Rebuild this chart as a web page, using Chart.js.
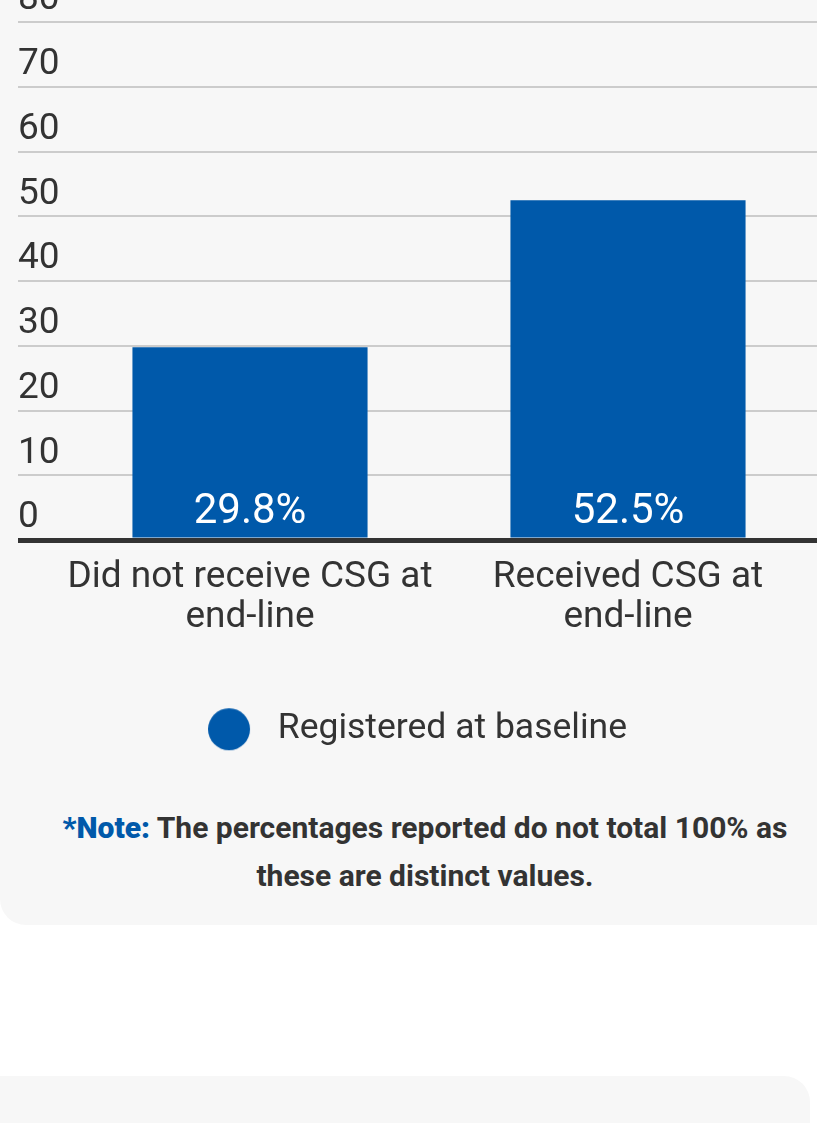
<!DOCTYPE html>
<html>
<head>
<meta charset="utf-8">
<script src="https://cdn.jsdelivr.net/npm/chart.js@4"></script>
<style>
  html, body { margin: 0; padding: 0; background: #fff; overflow: hidden; }
  body { width: 817px; height: 1123px; position: relative; font-family: Roboto, sans-serif; }
  .panel {
    position: absolute; left: 0; top: -40px; width: 900px; height: 965px;
    background: #f7f7f7; border-bottom-left-radius: 26px;
  }
  .panel2 {
    position: absolute; left: 0; top: 1076px; width: 810px; height: 200px;
    background: #f7f7f7; border-top-right-radius: 26px;
  }
  #wrap { position: absolute; left: 0; top: 0; width: 830px; height: 757px; }
  .note {
    position: absolute; left: 0; top: 804px; width: 850px;
    text-align: center; font-weight: bold; font-size: 30px; line-height: 48px; color: #333;
  }
  .note b { color: #0059aa; }
</style>
</head>
<body>
<div class="panel"></div>
<div class="panel2"></div>
<div id="wrap"><canvas id="myChart"></canvas></div>
<div class="note"><b>*Note:</b> The percentages reported do not total 100% as<br>these are distinct values.</div>

<script>
// chart data
const categories = [["Did not receive CSG at", "end-line"], ["Received CSG at", "end-line"]];
const seriesName = "Registered at baseline";
const values = [29.8, 52.5];
const yTicks = [0, 10, 20, 30, 40, 50, 60, 70, 80];

const blue = "#0059aa";
const textColor = "#333333";

// legend marker: circle sitting at the left of a wider box
const marker = document.createElement("canvas");
marker.width = 52;
marker.height = 44;
const mctx = marker.getContext("2d");
mctx.fillStyle = blue;
mctx.beginPath();
mctx.arc(21, 22, 21, 0, Math.PI * 2);
mctx.fill();

// white % labels at the foot of each bar
const barLabels = {
    id: "barLabels",
    afterDatasetsDraw(chart) {
        const ctx = chart.ctx;
        const meta = chart.getDatasetMeta(0);
        ctx.save();
        ctx.font = "42px Roboto";
        ctx.fillStyle = "#ffffff";
        ctx.textAlign = "center";
        ctx.textBaseline = "alphabetic";
        meta.data.forEach((bar, i) => {
            ctx.fillText(values[i].toFixed(1) + "%", bar.x, bar.base - 15);
        });
        ctx.restore();
    }
};

const ctx = document.getElementById("myChart").getContext("2d");

new Chart(ctx, {
    type: "bar",
    data: {
        labels: categories,
        datasets: [{
            label: seriesName,
            data: values,
            backgroundColor: blue,
            borderWidth: 0,
            categoryPercentage: 1,
            barPercentage: 0.622,
            pointStyle: marker
        }]
    },
    options: {
        responsive: true,
        maintainAspectRatio: false,
        animation: false,
        layout: { padding: { left: 18, right: 13, top: 0, bottom: 0 } },
        scales: {
            x: {
                grid: { display: false },
                border: { display: false },
                ticks: {
                    color: textColor,
                    font: { family: "Roboto", size: 37, lineHeight: 1.1 },
                    padding: 9,
                    maxRotation: 0,
                    autoSkip: false
                }
            },
            y: {
                min: yTicks[0],
                max: yTicks[yTicks.length - 1],
                afterFit(scale) { scale.width = 43; },
                afterBuildTicks(scale) { scale.ticks = yTicks.map(v => ({ value: v })); },
                border: { display: false },
                grid: {
                    tickLength: 43,
                    color: c => c.tick && c.tick.value === 0 ? "#333333" : "#cccccc",
                    lineWidth: c => c.tick && c.tick.value === 0 ? 5 : 2
                },
                ticks: {
                    color: textColor,
                    font: { family: "Roboto", size: 37 },
                    crossAlign: "far",
                    labelOffset: -22,
                    padding: 0
                }
            }
        },
        plugins: {
            legend: {
                position: "bottom",
                labels: {
                    usePointStyle: true,
                    pointStyleWidth: 52,
                    boxHeight: 30,
                    padding: 64,
                    color: textColor,
                    font: { family: "Roboto", size: 35.5 }
                }
            },
            tooltip: { enabled: false }
        }
    },
    plugins: [barLabels]
});
</script>
</body>
</html>
